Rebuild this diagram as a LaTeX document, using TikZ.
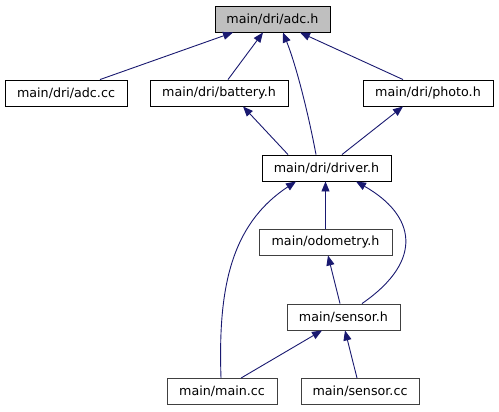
\documentclass[tikz,border=0pt]{standalone}
\usepackage{fontspec}
\setmainfont{DejaVu Sans}
\usetikzlibrary{arrows.meta}
\definecolor{edgeblue}{HTML}{191970}
\definecolor{boxgrey}{HTML}{BFBFBF}
\definecolor{dimborder}{HTML}{404040}
\begin{document}
\begin{tikzpicture}[x=1bp,y=-1bp,
  box/.style={draw=black,line width=0.9bp,fill=white,inner sep=0pt,minimum height=26bp,
    font=\fontsize{12.7bp}{15bp}\selectfont},
  dimbox/.style={box,draw=dimborder},
  edge/.style={draw=edgeblue,line width=0.9bp,-{Triangle[length=10bp,width=8bp]}}]
\useasboundingbox (0,0) rectangle (499,411);
\node[box,fill=boxgrey,minimum width=115bp] (adch) at (272.5,19) {main/dri/adc.h};
\node[box,minimum width=122bp] (adcc) at (66,93) {main/dri/adc.cc};
\node[box,minimum width=138bp] (bat) at (219,93) {main/dri/battery.h};
\node[box,minimum width=130bp] (photo) at (428,93) {main/dri/photo.h};
\node[box,minimum width=129bp] (drv) at (326.5,168) {main/dri/driver.h};
\node[dimbox,minimum width=133bp] (odo) at (325.5,242) {main/odometry.h};
\node[dimbox,minimum width=113bp] (sen) at (343.5,317) {main/sensor.h};
\node[dimbox,minimum width=110bp] (mainc) at (222,391.5) {main/main.cc};
\node[dimbox,minimum width=118bp] (senc) at (360,391.5) {main/sensor.cc};

\draw[edge] ([xshift=34bp]adcc.north) -- ([xshift=-39.5bp]adch.south);
\draw[edge] ([xshift=9bp]bat.north) -- ([xshift=-9.5bp]adch.south);
\draw[edge] ([xshift=-10.5bp]drv.north) .. controls (308,112) and (296,65) .. ([xshift=10.5bp]adch.south);
\draw[edge] ([xshift=-25bp]photo.north) -- ([xshift=27.5bp]adch.south);
\draw[edge] ([xshift=-38.5bp]drv.north) -- ([xshift=24bp]bat.south);
\draw[edge] ([xshift=15.5bp]drv.north) -- ([xshift=-25bp]photo.south);
\draw[edge] (odo.north) -- (odo.north |- drv.south);
\draw[edge] ([xshift=-1bp]mainc.north) .. controls (218,290) and (230,225) .. ([xshift=-30.5bp]drv.south);
\draw[edge] ([xshift=18.5bp]sen.north) .. controls (425,260) and (415,215) .. ([xshift=29.5bp]drv.south);
\draw[edge] ([xshift=-3.5bp]sen.north) -- ([xshift=2.5bp]odo.south);
\draw[edge] ([xshift=19bp]mainc.north) -- ([xshift=-21.5bp]sen.south);
\draw[edge] ([xshift=-3bp]senc.north) -- ([xshift=1.5bp]sen.south);
\end{tikzpicture}
\end{document}
